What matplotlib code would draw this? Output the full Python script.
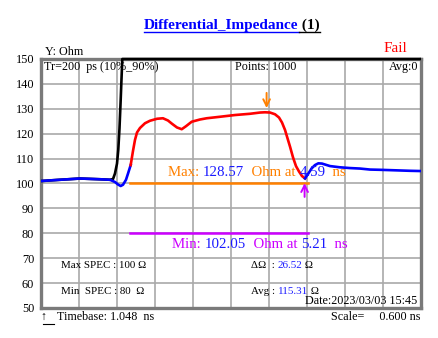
import matplotlib
matplotlib.use("Agg")
import matplotlib.pyplot as plt
from matplotlib.lines import Line2D

W, H = 439, 338
SERIF = ["Liberation Serif", "DejaVu Serif"]

# ---------------- data ----------------
t_blue_left = [1.048, 1.348, 1.664, 1.980, 2.137, 2.216, 2.264, 2.306, 2.343, 2.390, 2.422, 2.464]
z_blue_left = [101.0, 101.5, 102.0, 101.7, 101.5, 100.6, 99.6, 99.0, 99.5, 101.5, 104.0, 107.4]

t_red = [2.464, 2.500, 2.532, 2.564, 2.611, 2.690, 2.769, 2.880, 2.974, 3.053, 3.116, 3.195,
         3.270, 3.337, 3.427, 3.558, 3.664, 3.874, 4.111, 4.348, 4.506, 4.585, 4.664, 4.743,
         4.806, 4.853, 4.901, 4.948, 4.980, 5.027, 5.074, 5.122, 5.169, 5.216]
z_red = [107.4, 113.0, 117.5, 120.5, 122.3, 124.2, 125.2, 126.0, 126.2, 125.3, 124.0, 122.5,
         121.8, 123.0, 124.8, 125.7, 126.2, 126.8, 127.5, 128.0, 128.5, 128.6, 128.5, 127.8,
         126.5, 124.5, 121.5, 117.5, 114.8, 110.5, 107.0, 104.8, 103.0, 102.05]

t_blue_right = [5.216, 5.264, 5.322, 5.374, 5.427, 5.485, 5.611, 5.769, 5.927, 6.085, 6.243,
                6.401, 6.638, 6.874, 7.048]
z_blue_right = [102.05, 103.8, 106.1, 107.4, 108.1, 108.0, 107.0, 106.5, 106.2, 106.0, 105.6,
                105.5, 105.3, 105.1, 105.0]

t_black = [1.048, 1.348, 1.664, 1.980, 2.137, 2.185, 2.216, 2.248, 2.268, 2.287, 2.306, 2.319,
           2.332, 7.048]
z_black = [101.0, 101.5, 102.0, 101.7, 101.5, 101.8, 104.0, 108.0, 113.5, 122.0, 133.5, 142.0,
           150.0, 150.0]

max_val, max_t = 128.57, 4.59
min_val, min_t = 102.05, 5.21
max_spec, min_spec = 100, 80
spec_span = [2.45, 5.26]
delta_ohm = 26.52
avg_ohm = 115.31
timebase = 1.048
scale = 0.600
yticks = [50, 60, 70, 80, 90, 100, 110, 120, 130, 140, 150]

# ---------------- figure ----------------
fig = plt.figure(figsize=(W / 100, H / 100), dpi=100)
fig.patch.set_facecolor("white")
ax = fig.add_axes([41 / W, 1 - 308 / H, (421 - 41) / W, (308 - 59) / H])
x0 = timebase
x1 = timebase + 10 * scale
ax.set_xlim(x0, x1)
ax.set_ylim(50, 150)
ax.set_xticks([x0 + i * scale for i in range(11)])
ax.set_yticks(yticks)
ax.set_xticklabels([])
ax.set_yticklabels([str(v) for v in yticks], family=SERIF, fontsize=8.8)
ax.tick_params(axis="both", length=0, pad=5)
ax.tick_params(axis="x", labelbottom=False)
ax.grid(True, color="#a9a9a9", lw=1.2)
ax.set_axisbelow(True)
for sp in ax.spines.values():
    sp.set_color("#7a7a7a")
    sp.set_linewidth(2.4)

lw = 1.9
ax.plot(t_black, z_black, color="black", lw=lw, clip_on=False, zorder=3, solid_capstyle="butt")
ax.plot(t_blue_left, z_blue_left, color="#0000ff", lw=lw, zorder=4)
ax.plot(t_red, z_red, color="#ff0000", lw=lw, zorder=4)
ax.plot(t_blue_right, z_blue_right, color="#0000ff", lw=lw, zorder=4)

orange = "#ff8000"
magenta = "#cc00ff"
ax.plot(spec_span, [max_spec, max_spec], color=orange, lw=1.8, zorder=3)
ax.plot(spec_span, [min_spec, min_spec], color=magenta, lw=1.8, zorder=3)

ax.annotate("", xy=(max_t + 0.02, max_val + 0.6), xytext=(max_t + 0.02, 137.5),
            arrowprops=dict(arrowstyle="->", color=orange, lw=1.4, mutation_scale=12), zorder=5)
ax.annotate("", xy=(min_t, min_val - 0.8), xytext=(min_t, 93.5),
            arrowprops=dict(arrowstyle="->", color=magenta, lw=1.4, mutation_scale=12), zorder=5)

renderer = fig.canvas.get_renderer()


def ctext(x, y, parts, size, weight="normal", underline=False, uy=None):
    cur = x
    for s, c in parts:
        t = fig.text(cur / W, 1 - y / H, s, color=c, fontsize=size, family=SERIF,
                     va="center", ha="left", weight=weight, zorder=6)
        bb = t.get_window_extent(renderer)
        if underline:
            fig.add_artist(Line2D([cur / W, (cur + bb.width) / W], [1 - uy / H, 1 - uy / H],
                                  color=c, lw=1.0, transform=fig.transFigure))
        cur += bb.width
    return cur


def ptext(x, y, s, size, color="black", ha="left"):
    fig.text(x / W, 1 - y / H, s, color=color, fontsize=size, family=SERIF,
             va="center", ha=ha, zorder=6)


# title
ctext(144, 25, [("Differential_Impedance", "#0000ff"), (" (1)", "black")], 11,
      weight="bold", underline=True, uy=32)

ptext(45, 52, "Y: Ohm", 8.7)
ptext(384, 48, "Fail", 11, color="#ff0000")

ptext(44, 67, "Tr=200  ps (10%_90%)", 8.7)
ptext(235, 67, "Points: 1000", 8.7)
ptext(418, 67, "Avg:0", 8.7, ha="right")

blue = "#1a1aff"
ctext(168, 173, [("Max: ", orange), (f"{max_val:.2f}", blue), ("  Ohm at ", orange),
                 (f"{max_t:.2f}", blue), ("  ns", orange)], 10.7)
ctext(172, 244, [("Min: ", magenta), (f"{min_val:.2f}", blue), ("  Ohm at ", magenta),
                 (f"{min_t:.2f}", blue), ("  ns", magenta)], 10.7)

ctext(61, 266, [(f"Max SPEC : {max_spec} \u03a9", "black")], 7.9)
ctext(61, 291, [(f"Min  SPEC : {min_spec}  \u03a9", "black")], 7.9)
ctext(251, 266, [("\u0394\u03a9  : ", "black"), (f"{delta_ohm:.2f}", blue), (" \u03a9", "black")], 7.9)
ctext(251, 291, [("Avg : ", "black"), (f"{avg_ohm:.2f}", blue), (" \u03a9", "black")], 7.9)
ptext(417, 301, "Date:2023/03/03 15:45", 8.7, ha="right")

ptext(40, 317, "\u2191", 8.7)
fig.add_artist(Line2D([43.5 / W, 54 / W], [1 - 324 / H, 1 - 324 / H], color="black", lw=0.8,
                      transform=fig.transFigure))
ptext(57, 317, f"Timebase: {timebase:.3f}  ns", 8.7)
ptext(421, 317, f"Scale=     {scale:.3f} ns", 8.7, ha="right")

fig.savefig("out.png", dpi=100, facecolor="white")
